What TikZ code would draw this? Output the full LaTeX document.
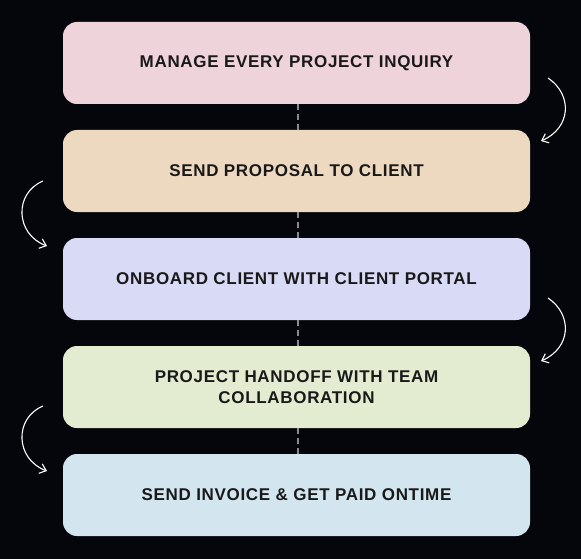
\documentclass[tikz,border=0pt]{standalone}
\usepackage{fontspec}
\setmainfont{Liberation Sans}[LetterSpace=4]
\usetikzlibrary{positioning}
\usetikzlibrary{arrows.meta}

\definecolor{bgdark}{HTML}{05060B}
\definecolor{stpink}{HTML}{EED3DB}
\definecolor{stpeach}{HTML}{EDD9BF}
\definecolor{stlav}{HTML}{D9DAF5}
\definecolor{stgreen}{HTML}{E3ECD0}
\definecolor{stblue}{HTML}{D3E5EE}
\definecolor{dashgray}{HTML}{8A8A8E}

\begin{document}
\begin{tikzpicture}[
	x=1pt, y=-1pt,
	font=\bfseries\fontsize{17}{21}\selectfont
]
\tikzset{
    stepbox/.style = {rounded corners=14pt, draw=none, align=center,
        minimum width=467pt, minimum height=82pt, text=black!90},
    edged/.style = {-, dashgray, line width=1.6pt, dash pattern=on 6pt off 4pt},
    edgea/.style = {-{Straight Barb[length=6pt,width=10pt]}, white, line width=1.1pt}
}
\fill[bgdark] (0,0) rectangle (581,559);
\useasboundingbox (0,0) rectangle (581,559);
%
\node[stepbox, fill=stpink]  at (296.5,63)  (s1) {MANAGE EVERY PROJECT INQUIRY};
\node[stepbox, fill=stpeach] at (296.5,171) (s2) {SEND PROPOSAL TO CLIENT};
\node[stepbox, fill=stlav]   at (296.5,279) (s3) {ONBOARD CLIENT WITH CLIENT PORTAL};
\node[stepbox, fill=stgreen] at (296.5,387) (s4) {PROJECT HANDOFF WITH TEAM\\COLLABORATION};
\node[stepbox, fill=stblue]  at (296.5,495) (s5) {SEND INVOICE \& GET PAID ONTIME};
%
\draw[edged] ([xshift=1.5pt]s1.south) -- ([xshift=1.5pt]s2.north);
\draw[edged] ([xshift=1.5pt]s2.south) -- ([xshift=1.5pt]s3.north);
\draw[edged] ([xshift=1.5pt]s3.south) -- ([xshift=1.5pt]s4.north);
\draw[edged] ([xshift=1.5pt]s4.south) -- ([xshift=1.5pt]s5.north);
%
\coordinate (r1a) at (548,78);  \coordinate (r1b) at (541,141);
\coordinate (l2a) at (43,181);  \coordinate (l2b) at (47,246);
\coordinate (r3a) at (548,298); \coordinate (r3b) at (541,361);
\coordinate (l4a) at (43,406);  \coordinate (l4b) at (47,471);
%
\draw[edgea] (r1a) .. controls (573,95) and (571,128) .. (r1b);
\draw[edgea] (l2a) .. controls (14,193) and (15,234) .. (l2b);
\draw[edgea] (r3a) .. controls (573,315) and (571,348) .. (r3b);
\draw[edgea] (l4a) .. controls (14,418) and (15,459) .. (l4b);
\end{tikzpicture}
\end{document}
